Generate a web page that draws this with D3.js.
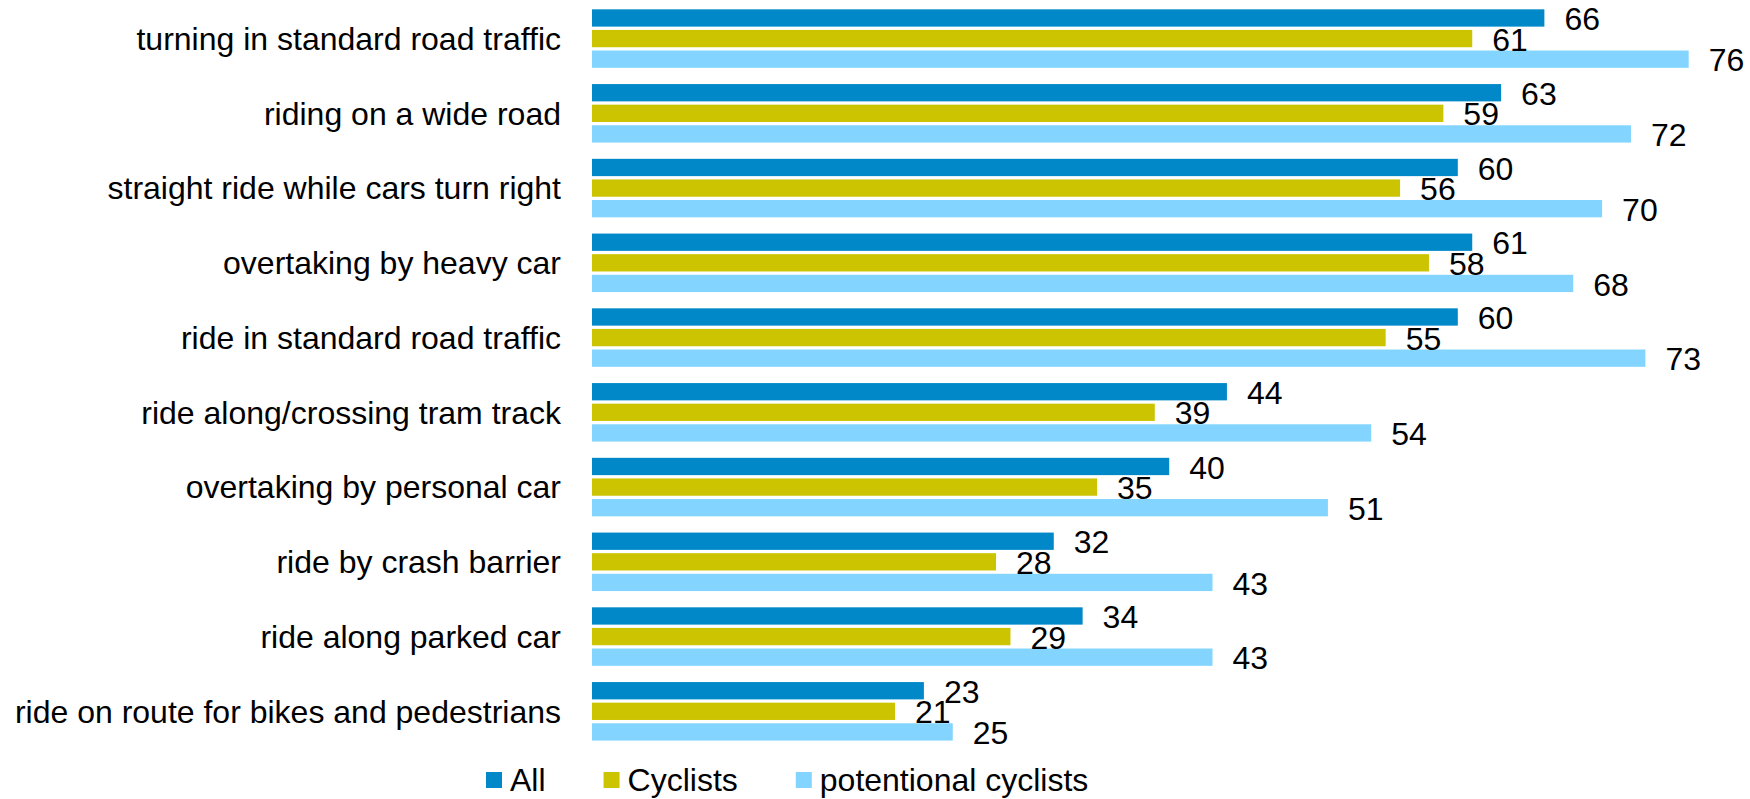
<!DOCTYPE html>
<html>
<head>
<meta charset="utf-8">
<script src="https://cdn.jsdelivr.net/npm/d3@7"></script>
<style>
  body { margin: 0; background: #fff; }
  svg { display: block; font-family: "Liberation Sans", Arial, sans-serif; }
</style>
</head>
<body>
<svg id="chart" width="1750" height="799"></svg>
<script>
// categories, top to bottom
var categories = [
  "turning in standard road traffic",
  "riding on a wide road",
  "straight ride while cars turn right",
  "overtaking by heavy car",
  "ride in standard road traffic",
  "ride along/crossing tram track",
  "overtaking by personal car",
  "ride by crash barrier",
  "ride along parked car",
  "ride on route for bikes and pedestrians"
];
var seriesNames = ["All", "Cyclists", "potentional cyclists"];
var allValues = [66, 63, 60, 61, 60, 44, 40, 32, 34, 23];
var cyclistValues = [61, 59, 56, 58, 55, 39, 35, 28, 29, 21];
var potentialValues = [76, 72, 70, 68, 73, 54, 51, 43, 43, 25];
var seriesColors = ["#0088c8", "#ccc400", "#83d5ff"];

var svg = d3.select("#chart"),
    width = +svg.attr("width"),
    height = +svg.attr("height");

// rows built from the arrays above
var rows = categories.map(function(c, i) {
  return { cat: c, vals: [allValues[i], cyclistValues[i], potentialValues[i]] };
});

var x = d3.scaleLinear().domain([0, 80]).range([592, 1746.4]);

var y = d3.scaleBand()
  .domain(categories)
  .range([1.2, 748.7])
  .paddingInner(0.2174)
  .paddingOuter(0.1087);

var ySub = d3.scaleBand()
  .domain(seriesNames)
  .range([0, y.bandwidth()])
  .paddingInner(0.16);

var color = d3.scaleOrdinal().domain(seriesNames).range(seriesColors);

// category labels via left axis, no line
var yAxis = svg.append("g")
  .attr("transform", "translate(" + x(0) + ",0)")
  .call(d3.axisLeft(y).tickSize(0).tickPadding(31));
yAxis.select(".domain").remove();
yAxis.selectAll("text")
  .attr("font-size", 32)
  .attr("font-family", "Liberation Sans, Arial, sans-serif")
  .attr("fill", "#000")
  .attr("dy", "0.35em");

var group = svg.append("g").selectAll("g")
  .data(rows)
  .enter().append("g")
  .attr("transform", function(d) { return "translate(0," + y(d.cat) + ")"; });

var bars = group.selectAll("rect")
  .data(function(d) { return d.vals.map(function(v, k) { return { name: seriesNames[k], value: v }; }); })
  .enter();

bars.append("rect")
  .attr("x", x(0))
  .attr("y", function(d) { return ySub(d.name); })
  .attr("width", function(d) { return x(d.value) - x(0); })
  .attr("height", ySub.bandwidth())
  .attr("fill", function(d) { return color(d.name); });

// value labels after bar end
bars.append("text")
  .attr("x", function(d) { return x(d.value) + 20; })
  .attr("y", function(d) { return ySub(d.name) + ySub.bandwidth() / 2; })
  .attr("dy", "0.38em")
  .attr("font-size", 32)
  .attr("fill", "#000")
  .text(function(d) { return d.value; });

// legend
var legend = svg.append("g").attr("class", "legend");
var lx = 486;
seriesNames.forEach(function(name) {
  legend.append("rect")
    .attr("x", lx).attr("y", 772)
    .attr("width", 16).attr("height", 16)
    .attr("fill", color(name));
  var t = legend.append("text")
    .attr("x", lx + 24).attr("y", 791)
    .attr("font-size", 32)
    .attr("fill", "#000")
    .text(name);
  lx = lx + 24 + t.node().getComputedTextLength() + 58;
});
</script>
</body>
</html>
